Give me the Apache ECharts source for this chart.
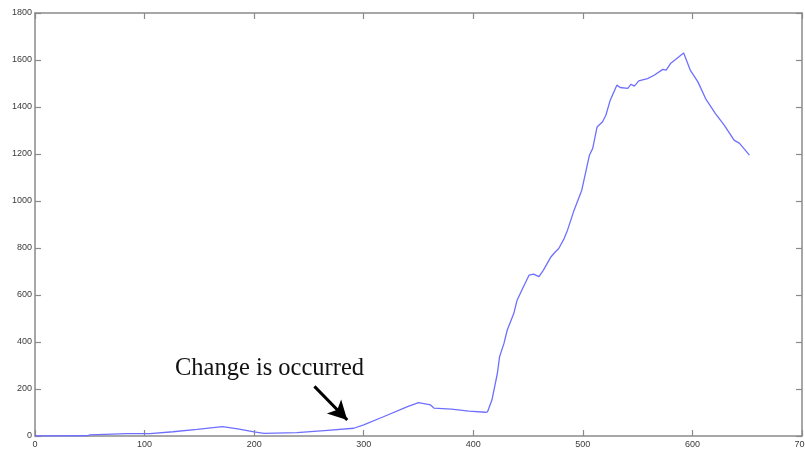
<!DOCTYPE html>
<html>
<head>
<meta charset="utf-8">
<script src="https://cdn.jsdelivr.net/npm/echarts@6/dist/echarts.min.js"></script>
<style>
  html, body { margin: 0; padding: 0; background: #fff; }
  #chart { width: 805px; height: 450px; }
</style>
</head>
<body>
<div id="chart"></div>
<script>
// Sample index along the x axis
const xValues = [0, 48, 50, 84, 105, 126, 148, 171, 185, 200, 209, 239, 264, 291, 300, 318, 340, 350, 361, 364, 380, 396, 411, 413, 417, 422, 424, 428, 431, 434, 437, 440, 445, 451, 455, 460, 464, 471, 475, 478, 483, 486, 492, 499, 506, 509, 513, 518, 521, 525, 531, 534, 541, 544, 547, 551, 559, 565, 573, 576, 580, 592, 598, 605, 612, 621, 629, 638, 643, 652];
// Measured value at each sample
const yValues = [0, 1, 5, 10, 10, 18, 28, 40, 30, 18, 11, 14, 23, 33, 47, 82, 125, 142, 132, 119, 114, 106, 101, 103, 153, 267, 337, 394, 451, 486, 522, 578, 628, 685, 689, 678, 706, 763, 784, 798, 841, 876, 961, 1046, 1195, 1224, 1315, 1337, 1365, 1429, 1493, 1483, 1479, 1497, 1489, 1511, 1521, 1535, 1560, 1557, 1585, 1630, 1557, 1507, 1436, 1372, 1323, 1259, 1245, 1195];

// Annotation: caption and arrow (data coordinates)
const noteText = 'Change is occurred';
const noteAt = [214, 285];
const arrowFrom = [255, 211];
const arrowTo = [285, 68];

const points = xValues.map((x, i) => [x, yValues[i]]);

const axisGray = '#8a8a8a';
const labelStyle = {
  color: '#3a3a3a', fontSize: 9, fontFamily: 'Liberation Sans, Arial, sans-serif',
  formatter: v => String(v)
};

const chart = echarts.init(document.getElementById('chart'), null, { renderer: 'canvas' });

function frameAxis(extra) {
  return Object.assign({
    axisLine: { show: true, onZero: false, lineStyle: { color: axisGray, width: 1.5 } },
    axisTick: { show: true, inside: true, length: 6, lineStyle: { color: axisGray, width: 1.2 } },
    splitLine: { show: false }
  }, extra);
}

chart.setOption({
  animation: false,
  backgroundColor: '#ffffff',
  grid: { left: 35, right: 3, top: 13, bottom: 14, containLabel: false, outerBoundsMode: 'none' },
  xAxis: [
    frameAxis({ type: 'value', min: 0, max: 700, interval: 100, position: 'bottom',
      axisLabel: Object.assign({ margin: 4, showMaxLabel: true, hideOverlap: false }, labelStyle) }),
    frameAxis({ type: 'value', min: 0, max: 700, interval: 100, position: 'top',
      axisLabel: { show: false } })
  ],
  yAxis: [
    frameAxis({ type: 'value', min: 0, max: 1800, interval: 200, position: 'left',
      axisLabel: Object.assign({ margin: 3 }, labelStyle) }),
    frameAxis({ type: 'value', min: 0, max: 1800, interval: 200, position: 'right',
      axisLabel: { show: false } })
  ],
  series: [
    {
      type: 'line',
      data: points,
      xAxisIndex: 0,
      yAxisIndex: 0,
      showSymbol: false,
      symbol: 'none',
      z: 5,
      lineStyle: { color: '#6f6fff', width: 1.3 },
      markLine: {
        silent: true,
        symbol: ['none', 'arrow'],
        symbolSize: [15, 19],
        label: { show: false },
        lineStyle: { color: '#000000', width: 3, type: 'solid' },
        data: [[{ coord: arrowFrom }, { coord: arrowTo }]]
      },
      markPoint: {
        silent: true,
        symbol: 'circle',
        symbolSize: 0,
        data: [{
          coord: noteAt,
          label: {
            show: true,
            position: 'inside',
            formatter: noteText,
            color: '#111111',
            fontSize: 24.5,
            fontFamily: 'Liberation Serif, Times New Roman, serif'
          }
        }]
      }
    }
  ]
});
</script>
</body>
</html>
